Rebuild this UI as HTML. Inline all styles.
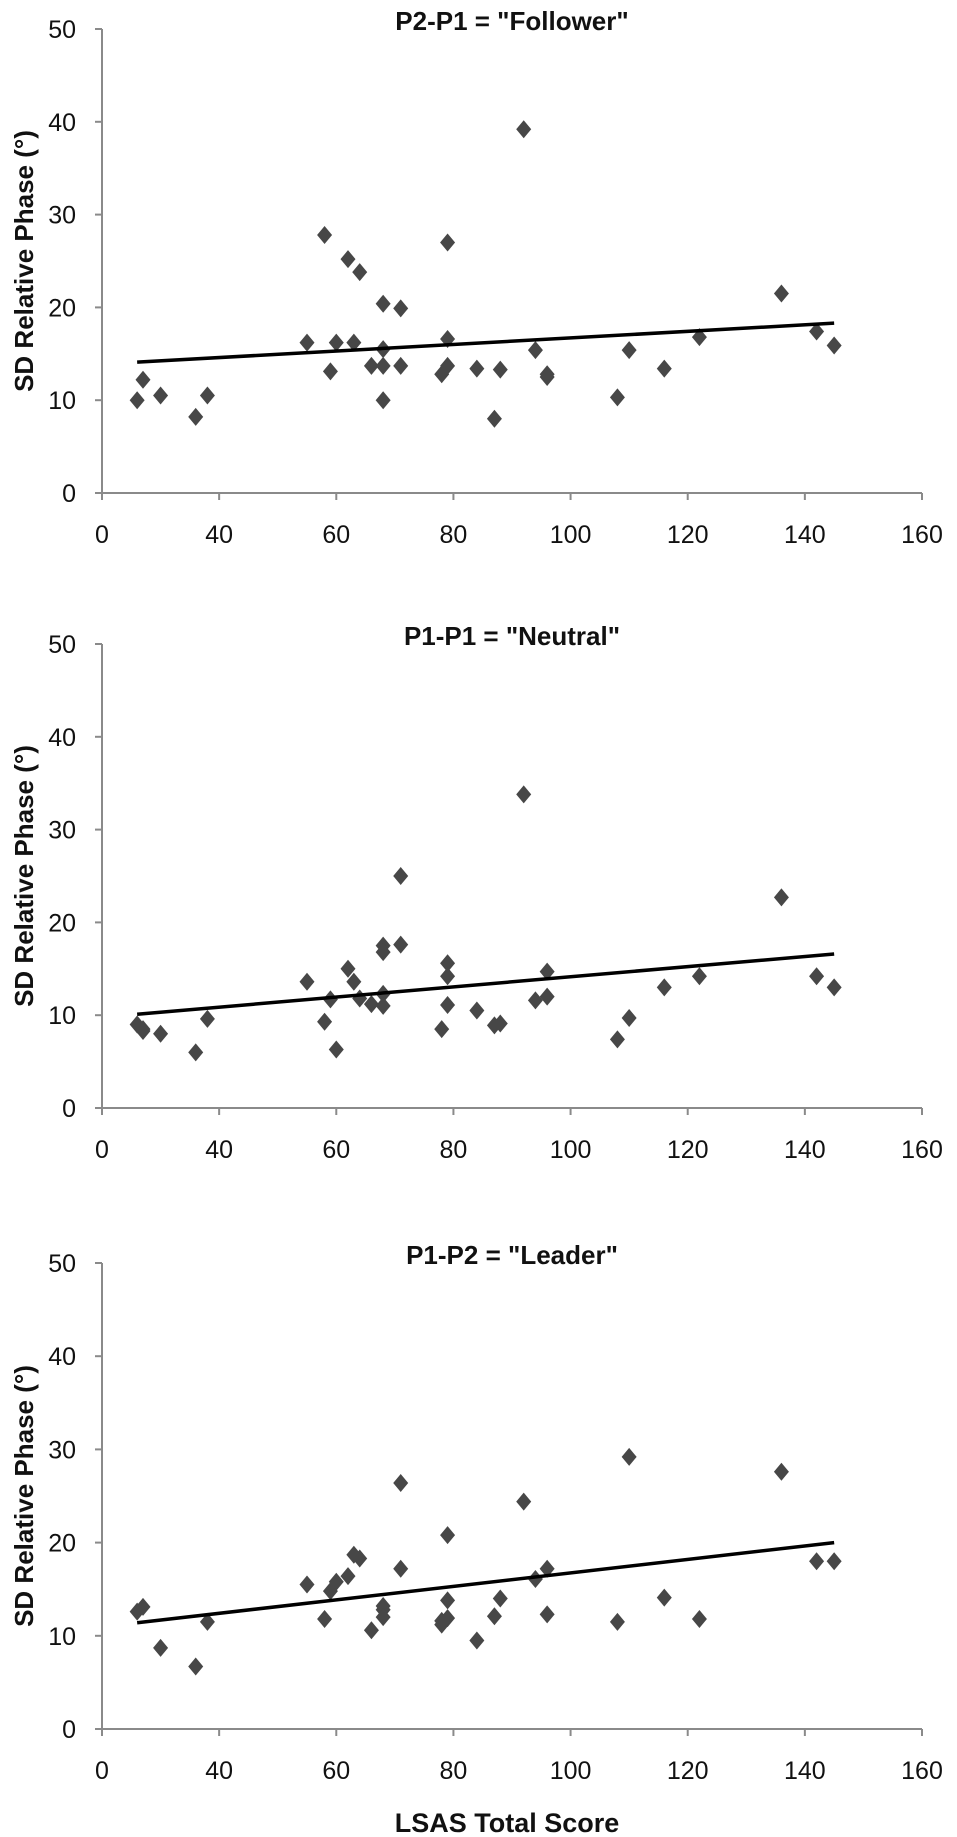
<!DOCTYPE html>
<html><head><meta charset="utf-8">
<style>
html,body{margin:0;padding:0;background:#fff;}
svg{display:block;}
text{font-family:"Liberation Sans",sans-serif;fill:#111;}
</style></head>
<body>
<svg id="chart" width="957" height="1837" viewBox="0 0 957 1837"></svg>
<script>
const lsas = [26,27,30,36,38,55,58,59,60,62,63,64,66,68,68,68,68,71,71,78,79,79,79,84,87,88,92,94,96,96,108,110,116,122,136,142,145];
const followerSD = [10.0,12.2,10.5,8.2,10.5,16.2,27.8,13.1,16.2,25.2,16.2,23.8,13.7,13.7,15.5,10.0,20.4,19.9,13.7,12.8,13.7,16.6,27.0,13.4,8.0,13.3,39.2,15.4,12.8,12.5,10.3,15.4,13.4,16.8,21.5,17.4,15.9];
const lsasNeutral = [26,27,27,30,36,38,55,58,59,60,62,63,64,66,68,68,68,68,71,71,78,79,79,79,84,87,88,92,94,96,96,108,110,116,122,136,142,145];
const neutralSD = [9.0,8.5,8.3,8.0,6.0,9.6,13.6,9.3,11.7,6.3,15.0,13.6,11.8,11.2,17.5,16.8,12.3,11.0,25.0,17.6,8.5,15.6,14.2,11.1,10.5,8.9,9.1,33.8,11.6,14.7,12.0,7.4,9.7,13.0,14.2,22.7,14.2,13.0];
const lsasLeader = [26,27,30,36,38,55,58,59,60,62,63,64,66,68,68,68,71,71,78,78,79,79,79,84,87,88,92,94,96,96,108,110,116,122,136,142,145];
const leaderSD = [12.6,13.1,8.7,6.7,11.5,15.5,11.8,14.8,15.8,16.4,18.7,18.3,10.6,13.2,12.8,12.0,26.4,17.2,11.2,11.6,20.8,13.8,11.9,9.5,12.1,14.0,24.4,16.1,17.2,12.3,11.5,29.2,14.1,11.8,27.6,18.0,18.0];
const trendX = [26,145];
const followerTrend = [14.1,18.3];
const neutralTrend = [10.1,16.6];
const leaderTrend = [11.4,20.0];
const xTickValues = [20,40,60,80,100,120,140,160];
const xTickLabels = ["0","40","60","80","100","120","140","160"];
const yTickValues = [0,10,20,30,40,50];

const NS="http://www.w3.org/2000/svg";
const svg=document.getElementById('chart');
function el(tag,attrs,parent){const e=document.createElementNS(NS,tag);for(const k in attrs)e.setAttribute(k,attrs[k]);(parent||svg).appendChild(e);return e;}

const X0=102,X1=922,XMIN=20,XMAX=160;
function xs(v){return X0+(v-XMIN)/(XMAX-XMIN)*(X1-X0);}

const panels=[
 {key:'follower',title:'P2-P1 = "Follower"',top:29,bottom:493,xv:lsas,yv:followerSD,trend:followerTrend},
 {key:'neutral',title:'P1-P1 = "Neutral"',top:644,bottom:1108,xv:lsasNeutral,yv:neutralSD,trend:neutralTrend},
 {key:'leader',title:'P1-P2 = "Leader"',top:1263,bottom:1729,xv:lsasLeader,yv:leaderSD,trend:leaderTrend}
];

panels.forEach(p=>{
  const g=el('g',{});
  
  
  const ys=v=>p.bottom-(v/50)*(p.bottom-p.top);
  const t=el('text',{x:512,y:p.top+1,'text-anchor':'middle','font-size':26,'font-weight':'bold'},g);
  t.textContent=p.title;
  
  
  const yt=el('text',{x:0,y:0,'text-anchor':'middle','font-size':26,'font-weight':'bold',transform:`translate(33,${(p.top+p.bottom)/2}) rotate(-90)`},g);
  yt.textContent='SD Relative Phase (°)';
  
  
  const ya=el('line',{x1:X0,y1:p.top,x2:X0,y2:p.bottom,stroke:'#8a8a8a','stroke-width':2},g);
  
  
  const xa=el('line',{x1:X0-7,y1:p.bottom,x2:X1,y2:p.bottom,stroke:'#8a8a8a','stroke-width':2},g);
  
  
  yTickValues.forEach(v=>{
    const y=ys(v);
    el('line',{x1:X0-7,y1:y,x2:X0,y2:y,stroke:'#8a8a8a','stroke-width':2},g);
    const l=el('text',{x:76,y:y+9,'text-anchor':'end','font-size':25},g);
    l.textContent=v;
    
    
  });
  xTickValues.forEach((v,i)=>{
    const x=xs(v);
    el('line',{x1:x,y1:p.bottom,x2:x,y2:p.bottom+7,stroke:'#8a8a8a','stroke-width':2},g);
    const l=el('text',{x:x,y:p.bottom+50,'text-anchor':'middle','font-size':25},g);
    l.textContent=xTickLabels[i];
    
    
  });
  p.xv.forEach((xv,i)=>{
    const cx=xs(xv),cy=ys(p.yv[i]);
    const d=el('path',{d:`M${cx},${cy-9} L${cx+7.5},${cy} L${cx},${cy+9} L${cx-7.5},${cy} Z`,fill:'#474747'},g);
    
    
  });
  const tl=el('line',{x1:xs(trendX[0]),y1:ys(p.trend[0]),x2:xs(trendX[1]),y2:ys(p.trend[1]),stroke:'#000','stroke-width':3.5},g);
  
  
});
const xt=el('text',{x:507,y:1832,'text-anchor':'middle','font-size':27,'font-weight':'bold'});
xt.textContent='LSAS Total Score';


</script>
</body></html>
